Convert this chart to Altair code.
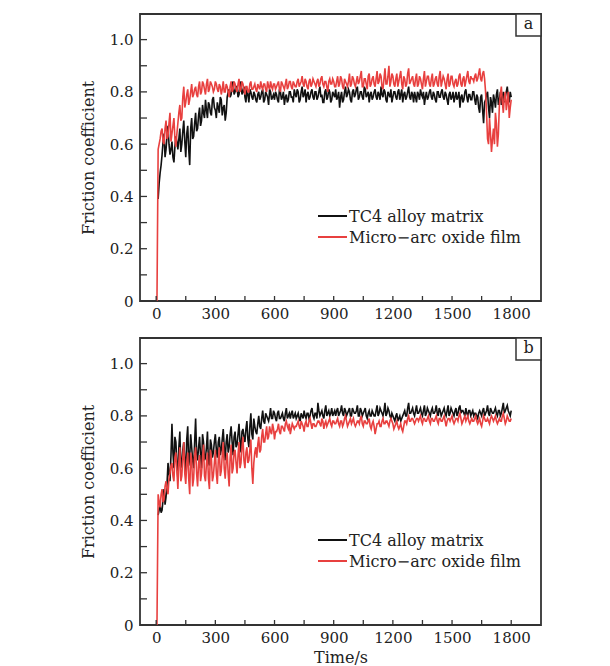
import altair as alt
import pandas as pd

# ---------------- data ----------------
TIME = list(range(10, 1810, 10))          # s, samples at 10, 20, ... 1800
TIME_MID = list(range(15, 1800, 10))      # s, samples at 15, 25, ... 1795
START_T = 4                                # red traces start from 0 here
START_MU = 0.0

# Panel a – TC4 alloy matrix
A_TC4 = [
    0.39, 0.49, 0.56, 0.64, 0.58, 0.67, 0.56, 0.61, 0.53, 0.63,
    0.58, 0.66, 0.60, 0.69, 0.55, 0.67, 0.52, 0.70, 0.63, 0.72,
    0.66, 0.74, 0.69, 0.72, 0.77, 0.70, 0.75, 0.71, 0.78, 0.73,
    0.76, 0.72, 0.77, 0.74, 0.69, 0.78, 0.81, 0.79, 0.84, 0.80,
    0.82, 0.79, 0.84, 0.80, 0.78, 0.81, 0.76, 0.80, 0.77, 0.79,
    0.76, 0.80, 0.78, 0.81, 0.77, 0.79, 0.75, 0.80, 0.78, 0.77,
    0.79, 0.76, 0.80, 0.78, 0.75, 0.79, 0.77, 0.80, 0.78, 0.81,
    0.78, 0.80, 0.77, 0.82, 0.79, 0.76, 0.80, 0.78, 0.81, 0.77,
    0.80, 0.78, 0.82, 0.79, 0.76, 0.81, 0.78, 0.80, 0.77, 0.79,
    0.81, 0.78, 0.74, 0.80, 0.77, 0.82, 0.79, 0.80, 0.76, 0.81,
    0.79, 0.82, 0.78, 0.80, 0.77, 0.81, 0.79, 0.76, 0.80, 0.78,
    0.81, 0.77, 0.79, 0.82, 0.78, 0.80, 0.76, 0.79, 0.81, 0.78,
    0.80, 0.77, 0.81, 0.79, 0.76, 0.80, 0.78, 0.82, 0.77, 0.79,
    0.80, 0.76, 0.79, 0.81, 0.78, 0.75, 0.80, 0.78, 0.81, 0.77,
    0.79, 0.76, 0.80, 0.78, 0.81, 0.77, 0.79, 0.75, 0.80, 0.78,
    0.76, 0.80, 0.78, 0.74, 0.79, 0.77, 0.81, 0.76, 0.79, 0.77,
    0.80, 0.75, 0.78, 0.72, 0.79, 0.68, 0.77, 0.80, 0.70, 0.76,
    0.79, 0.74, 0.81, 0.77, 0.75, 0.80, 0.78, 0.82, 0.76, 0.78,
]
A_TC4_MID = [
    0.45, 0.52, 0.61, 0.55, 0.63, 0.60, 0.58, 0.55, 0.59, 0.61,
    0.62, 0.57, 0.65, 0.61, 0.64, 0.58, 0.66, 0.62, 0.68, 0.65,
    0.71, 0.67, 0.75, 0.70, 0.73, 0.76, 0.72, 0.77, 0.74, 0.70,
    0.74, 0.78, 0.71, 0.75, 0.72, 0.80, 0.78, 0.83, 0.79, 0.82,
    0.78, 0.83, 0.79, 0.82, 0.76, 0.79, 0.81, 0.78, 0.80, 0.77,
    0.79, 0.77, 0.80, 0.76, 0.80, 0.78, 0.81, 0.77, 0.79, 0.80,
    0.77, 0.81, 0.77, 0.80, 0.78, 0.76, 0.80, 0.78, 0.76, 0.79,
    0.81, 0.76, 0.80, 0.78, 0.81, 0.79, 0.77, 0.80, 0.78, 0.80,
    0.77, 0.80, 0.78, 0.76, 0.80, 0.77, 0.81, 0.76, 0.80, 0.78,
    0.77, 0.80, 0.78, 0.76, 0.80, 0.78, 0.81, 0.77, 0.80, 0.78,
    0.81, 0.77, 0.80, 0.78, 0.82, 0.78, 0.80, 0.79, 0.77, 0.80,
    0.78, 0.80, 0.77, 0.79, 0.81, 0.77, 0.80, 0.78, 0.76, 0.80,
    0.78, 0.80, 0.77, 0.81, 0.79, 0.77, 0.80, 0.78, 0.80, 0.76,
    0.78, 0.80, 0.77, 0.79, 0.80, 0.78, 0.77, 0.80, 0.78, 0.80,
    0.77, 0.80, 0.78, 0.80, 0.78, 0.80, 0.77, 0.79, 0.77, 0.80,
    0.78, 0.77, 0.80, 0.78, 0.76, 0.80, 0.78, 0.79, 0.77, 0.80,
    0.77, 0.79, 0.74, 0.78, 0.73, 0.76, 0.79, 0.74, 0.78, 0.72,
    0.77, 0.79, 0.75, 0.80, 0.78, 0.76, 0.80, 0.78, 0.80,
]
# Panel a – micro-arc oxide film
A_MAO = [
    0.58, 0.62, 0.66, 0.60, 0.69, 0.63, 0.72, 0.64, 0.70, 0.59,
    0.68, 0.75, 0.70, 0.82, 0.76, 0.81, 0.77, 0.83, 0.79, 0.82,
    0.78, 0.84, 0.80, 0.83, 0.79, 0.85, 0.81, 0.83, 0.80, 0.84,
    0.81, 0.83, 0.79, 0.84, 0.80, 0.82, 0.78, 0.84, 0.81, 0.83,
    0.80, 0.85, 0.81, 0.83, 0.79, 0.82, 0.80, 0.84, 0.81, 0.83,
    0.80, 0.82, 0.84, 0.81, 0.83, 0.80, 0.82, 0.84, 0.81, 0.83,
    0.82, 0.84, 0.80, 0.83, 0.81, 0.85, 0.82, 0.84, 0.81, 0.83,
    0.82, 0.85, 0.83, 0.86, 0.82, 0.84, 0.81, 0.85, 0.83, 0.84,
    0.82, 0.85, 0.83, 0.86, 0.82, 0.84, 0.80, 0.85, 0.83, 0.84,
    0.82, 0.86, 0.83, 0.85, 0.81, 0.84, 0.82, 0.87, 0.83, 0.85,
    0.82, 0.86, 0.84, 0.88, 0.82, 0.85, 0.81, 0.87, 0.83, 0.86,
    0.82, 0.88, 0.84, 0.86, 0.81, 0.89, 0.83, 0.90, 0.84, 0.86,
    0.82, 0.87, 0.84, 0.88, 0.81, 0.85, 0.83, 0.89, 0.84, 0.86,
    0.82, 0.87, 0.83, 0.85, 0.81, 0.88, 0.84, 0.86, 0.82, 0.87,
    0.83, 0.86, 0.82, 0.88, 0.84, 0.85, 0.81, 0.87, 0.83, 0.86,
    0.82, 0.85, 0.83, 0.87, 0.82, 0.86, 0.84, 0.88, 0.83, 0.85,
    0.84, 0.87, 0.85, 0.89, 0.84, 0.88, 0.80, 0.62, 0.70, 0.57,
    0.66, 0.72, 0.59, 0.75, 0.82, 0.72, 0.80, 0.76, 0.70, 0.77,
]
A_MAO_MID = [
    0.60, 0.65, 0.61, 0.66, 0.62, 0.68, 0.61, 0.67, 0.62, 0.64,
    0.72, 0.69, 0.78, 0.74, 0.79, 0.75, 0.80, 0.78, 0.81, 0.79,
    0.82, 0.79, 0.84, 0.81, 0.83, 0.80, 0.84, 0.82, 0.81, 0.83,
    0.80, 0.82, 0.81, 0.80, 0.83, 0.80, 0.82, 0.80, 0.84, 0.81,
    0.83, 0.80, 0.84, 0.81, 0.82, 0.80, 0.83, 0.81, 0.82, 0.81,
    0.83, 0.81, 0.82, 0.83, 0.81, 0.84, 0.81, 0.82, 0.83, 0.81,
    0.83, 0.81, 0.84, 0.82, 0.83, 0.81, 0.84, 0.82, 0.84, 0.82,
    0.84, 0.82, 0.84, 0.83, 0.85, 0.82, 0.84, 0.82, 0.85, 0.83,
    0.84, 0.82, 0.85, 0.83, 0.84, 0.82, 0.84, 0.83, 0.85, 0.82,
    0.84, 0.82, 0.86, 0.82, 0.85, 0.83, 0.84, 0.82, 0.86, 0.83,
    0.84, 0.83, 0.86, 0.82, 0.85, 0.83, 0.86, 0.82, 0.85, 0.83,
    0.85, 0.83, 0.87, 0.82, 0.85, 0.83, 0.86, 0.82, 0.87, 0.83,
    0.85, 0.82, 0.86, 0.83, 0.86, 0.82, 0.87, 0.83, 0.85, 0.83,
    0.85, 0.82, 0.86, 0.83, 0.85, 0.82, 0.86, 0.83, 0.85, 0.82,
    0.85, 0.83, 0.86, 0.82, 0.86, 0.83, 0.85, 0.82, 0.86, 0.83,
    0.84, 0.82, 0.86, 0.83, 0.85, 0.82, 0.86, 0.84, 0.86, 0.85,
    0.86, 0.84, 0.87, 0.85, 0.87, 0.85, 0.72, 0.60, 0.64, 0.62,
    0.60, 0.68, 0.64, 0.79, 0.76, 0.78, 0.73, 0.80, 0.74,
]
# Panel b – TC4 alloy matrix
B_TC4 = [
    0.42, 0.46, 0.44, 0.52, 0.49, 0.62, 0.55, 0.77, 0.60, 0.70,
    0.56, 0.74, 0.62, 0.70, 0.58, 0.76, 0.64, 0.68, 0.60, 0.79,
    0.63, 0.72, 0.60, 0.70, 0.64, 0.74, 0.61, 0.69, 0.66, 0.73,
    0.64, 0.72, 0.67, 0.75, 0.63, 0.73, 0.68, 0.76, 0.65, 0.74,
    0.69, 0.77, 0.66, 0.75, 0.70, 0.78, 0.68, 0.81, 0.71, 0.76,
    0.73, 0.80, 0.75, 0.82, 0.77, 0.80, 0.78, 0.83, 0.79, 0.81,
    0.78, 0.82, 0.79, 0.81, 0.78, 0.83, 0.80, 0.79, 0.82, 0.80,
    0.79, 0.81, 0.78, 0.80, 0.82, 0.79, 0.81, 0.80, 0.83, 0.79,
    0.81, 0.85, 0.80, 0.82, 0.79, 0.84, 0.81, 0.80, 0.83, 0.81,
    0.80, 0.83, 0.81, 0.84, 0.80, 0.82, 0.81, 0.83, 0.80, 0.82,
    0.81, 0.84, 0.80, 0.82, 0.81, 0.83, 0.79, 0.82, 0.80, 0.81,
    0.80, 0.84, 0.81, 0.82, 0.80, 0.85, 0.81, 0.82, 0.79, 0.80,
    0.78, 0.81, 0.79, 0.78, 0.80, 0.82, 0.80, 0.85, 0.81, 0.83,
    0.80, 0.84, 0.81, 0.83, 0.80, 0.84, 0.81, 0.82, 0.80, 0.83,
    0.81, 0.84, 0.80, 0.82, 0.81, 0.83, 0.80, 0.84, 0.81, 0.82,
    0.80, 0.83, 0.81, 0.84, 0.82, 0.81, 0.83, 0.80, 0.82, 0.81,
    0.80, 0.81, 0.79, 0.82, 0.80, 0.83, 0.81, 0.84, 0.80, 0.82,
    0.81, 0.83, 0.80, 0.82, 0.81, 0.85, 0.82, 0.84, 0.81, 0.82,
]
B_TC4_MID = [
    0.44, 0.43, 0.48, 0.46, 0.54, 0.58, 0.65, 0.66, 0.72, 0.62,
    0.68, 0.60, 0.67, 0.63, 0.71, 0.61, 0.73, 0.63, 0.70, 0.66,
    0.68, 0.65, 0.73, 0.63, 0.68, 0.62, 0.71, 0.64, 0.70, 0.67,
    0.70, 0.65, 0.71, 0.68, 0.70, 0.66, 0.73, 0.70, 0.72, 0.68,
    0.73, 0.70, 0.74, 0.72, 0.75, 0.71, 0.76, 0.73, 0.79, 0.74,
    0.77, 0.76, 0.79, 0.78, 0.81, 0.79, 0.80, 0.79, 0.82, 0.79,
    0.81, 0.79, 0.80, 0.79, 0.81, 0.79, 0.81, 0.81, 0.79, 0.81,
    0.80, 0.79, 0.81, 0.79, 0.80, 0.81, 0.79, 0.82, 0.80, 0.81,
    0.79, 0.82, 0.81, 0.80, 0.82, 0.80, 0.82, 0.81, 0.80, 0.82,
    0.82, 0.80, 0.82, 0.81, 0.83, 0.80, 0.82, 0.80, 0.83, 0.81,
    0.82, 0.80, 0.83, 0.80, 0.82, 0.80, 0.81, 0.80, 0.82, 0.80,
    0.82, 0.80, 0.83, 0.81, 0.82, 0.80, 0.83, 0.80, 0.81, 0.79,
    0.80, 0.78, 0.80, 0.79, 0.81, 0.80, 0.83, 0.81, 0.82, 0.81,
    0.82, 0.81, 0.82, 0.81, 0.82, 0.80, 0.83, 0.81, 0.82, 0.81,
    0.82, 0.81, 0.83, 0.80, 0.82, 0.81, 0.82, 0.80, 0.83, 0.81,
    0.82, 0.80, 0.83, 0.81, 0.82, 0.80, 0.81, 0.82, 0.80, 0.82,
    0.81, 0.80, 0.81, 0.81, 0.82, 0.80, 0.82, 0.81, 0.83, 0.81,
    0.82, 0.81, 0.82, 0.80, 0.83, 0.81, 0.83, 0.82, 0.80,
]
# Panel b – micro-arc oxide film
B_MAO = [
    0.50, 0.45, 0.52, 0.48, 0.55, 0.50, 0.58, 0.62, 0.55, 0.66,
    0.52, 0.68, 0.57, 0.70, 0.54, 0.66, 0.50, 0.63, 0.56, 0.68,
    0.53, 0.65, 0.58, 0.69, 0.55, 0.66, 0.52, 0.64, 0.57, 0.67,
    0.54, 0.68, 0.59, 0.70, 0.56, 0.66, 0.53, 0.69, 0.60, 0.67,
    0.58, 0.70, 0.62, 0.72, 0.60, 0.68, 0.63, 0.71, 0.54, 0.66,
    0.64, 0.72, 0.67, 0.75, 0.70, 0.76, 0.72, 0.74, 0.77, 0.71,
    0.74, 0.77, 0.73, 0.76, 0.74, 0.78, 0.75, 0.73, 0.77, 0.75,
    0.76, 0.78, 0.75, 0.77, 0.74, 0.78, 0.76, 0.79, 0.75, 0.77,
    0.76, 0.78, 0.77, 0.79, 0.75, 0.78, 0.77, 0.79, 0.76, 0.78,
    0.77, 0.79, 0.76, 0.78, 0.77, 0.80, 0.76, 0.78, 0.77, 0.79,
    0.76, 0.78, 0.77, 0.80, 0.76, 0.78, 0.77, 0.79, 0.75, 0.78,
    0.73, 0.77, 0.78, 0.76, 0.79, 0.77, 0.78, 0.76, 0.79, 0.77,
    0.76, 0.78, 0.75, 0.77, 0.74, 0.78, 0.77, 0.80, 0.78, 0.79,
    0.77, 0.79, 0.78, 0.80, 0.77, 0.79, 0.78, 0.80, 0.77, 0.79,
    0.78, 0.80, 0.77, 0.79, 0.78, 0.80, 0.76, 0.79, 0.78, 0.80,
    0.77, 0.79, 0.78, 0.81, 0.77, 0.79, 0.78, 0.80, 0.77, 0.79,
    0.78, 0.80, 0.77, 0.79, 0.76, 0.80, 0.78, 0.79, 0.77, 0.80,
    0.78, 0.80, 0.77, 0.79, 0.78, 0.81, 0.77, 0.80, 0.78, 0.79,
]
B_MAO_MID = [
    0.47, 0.50, 0.47, 0.53, 0.52, 0.56, 0.61, 0.57, 0.64, 0.59,
    0.62, 0.55, 0.64, 0.58, 0.62, 0.56, 0.66, 0.53, 0.65, 0.58,
    0.62, 0.55, 0.64, 0.57, 0.62, 0.56, 0.67, 0.55, 0.62, 0.58,
    0.63, 0.57, 0.65, 0.60, 0.63, 0.58, 0.64, 0.58, 0.66, 0.62,
    0.65, 0.60, 0.68, 0.63, 0.66, 0.62, 0.67, 0.60, 0.62, 0.68,
    0.69, 0.66, 0.72, 0.70, 0.73, 0.71, 0.76, 0.73, 0.75, 0.74,
    0.75, 0.74, 0.76, 0.75, 0.77, 0.76, 0.77, 0.75, 0.76, 0.76,
    0.77, 0.76, 0.78, 0.76, 0.77, 0.76, 0.78, 0.77, 0.77, 0.76,
    0.77, 0.78, 0.76, 0.78, 0.77, 0.76, 0.78, 0.77, 0.78, 0.77,
    0.78, 0.77, 0.78, 0.76, 0.79, 0.78, 0.77, 0.79, 0.78, 0.77,
    0.77, 0.78, 0.79, 0.77, 0.78, 0.77, 0.78, 0.76, 0.77, 0.76,
    0.75, 0.77, 0.76, 0.78, 0.77, 0.78, 0.77, 0.78, 0.78, 0.75,
    0.77, 0.76, 0.76, 0.75, 0.76, 0.78, 0.79, 0.78, 0.79, 0.78,
    0.78, 0.79, 0.79, 0.78, 0.79, 0.78, 0.79, 0.78, 0.79, 0.78,
    0.79, 0.78, 0.79, 0.78, 0.79, 0.78, 0.78, 0.79, 0.79, 0.78,
    0.78, 0.79, 0.80, 0.79, 0.78, 0.80, 0.79, 0.78, 0.78, 0.78,
    0.79, 0.78, 0.78, 0.77, 0.78, 0.79, 0.78, 0.78, 0.79, 0.79,
    0.79, 0.78, 0.78, 0.78, 0.80, 0.79, 0.78, 0.79, 0.78,
]

SERIES = ["TC4 alloy matrix", "Micro\u2212arc oxide film"]
COLORS = ["#111111", "#e8403f"]
PANEL_TAGS = ["a", "b"]
X_LABELS = [0, 300, 600, 900, 1200, 1500, 1800]
X_TICKS = [0, 150, 300, 450, 600, 750, 900, 1050, 1200, 1350, 1500, 1650, 1800]
Y_LABELS = [0, 0.2, 0.4, 0.6, 0.8, 1.0]
Y_TICKS = [0, 0.1, 0.2, 0.3, 0.4, 0.5, 0.6, 0.7, 0.8, 0.9, 1.0]

# ---------------- style ----------------
FONT = "DejaVu Serif"
INK = "#222222"
FRAME = "#333333"
W, H = 401, 287
XS = alt.Scale(domain=[-82, 1951], nice=False, zero=False)
YS = alt.Scale(domain=[0, 1.098], nice=False, zero=False)


def trace(main, mid, start=None):
    t = TIME + TIME_MID
    mu = main + mid
    if start is not None:
        t = [start[0]] + t
        mu = [start[1]] + mu
    return pd.DataFrame({"t": t, "mu": mu}).sort_values("t")


def panel(tc4, tc4_mid, mao, mao_mid, tag, show_xtitle):
    d_tc4 = trace(tc4, tc4_mid)
    d_mao = trace(mao, mao_mid, (START_T, START_MU))

    xaxis_kw = dict(
        values=X_LABELS, format="d", ticks=False, domain=False, grid=False,
        labelFont=FONT, labelFontSize=15, labelColor=INK, labelPadding=5,
        titleFont=FONT, titleFontSize=16, titleFontWeight="normal",
        titleColor=INK, titlePadding=4,
    )
    xaxis = alt.Axis(title="Time/s", **xaxis_kw) if show_xtitle else alt.Axis(title=None, **xaxis_kw)
    yaxis = alt.Axis(
        values=Y_LABELS, ticks=False, domain=False, grid=False,
        labelExpr="datum.value == 0 ? '0' : format(datum.value, '.1f')",
        labelFont=FONT, labelFontSize=15, labelColor=INK, labelPadding=7,
        title="Friction coefficient", titleFont=FONT, titleFontSize=16,
        titleFontWeight="normal", titleColor=INK, titleAngle=270,
        titleX=-47, titleY=H / 2, titleAlign="center", titleBaseline="alphabetic",
    )
    X = lambda: alt.X("t:Q", scale=XS, axis=xaxis)
    Y = lambda: alt.Y("mu:Q", scale=YS, axis=yaxis)

    line_tc4 = alt.Chart(d_tc4).mark_line(color=COLORS[0], strokeWidth=1.6).encode(
        x=X(), y=Y(), order="t:Q")
    line_mao = alt.Chart(d_mao).mark_line(color=COLORS[1], strokeWidth=1.6).encode(
        x=X(), y=Y(), order="t:Q")
    xt = alt.Chart(pd.DataFrame({"t": X_TICKS})).mark_rule(color=FRAME, strokeWidth=1.3).encode(
        x=X(), y=alt.value(H), y2=alt.value(H - 5)
    )
    yt = alt.Chart(pd.DataFrame({"mu": Y_TICKS})).mark_rule(color=FRAME, strokeWidth=1.3).encode(
        y=Y(), x=alt.value(0), x2=alt.value(7)
    )

    layers = [line_tc4, line_mao, xt, yt]
    for i, (name, col) in enumerate(zip(SERIES, COLORS)):
        yy = 202 + 21 * i
        ld = pd.DataFrame({"name": [name]})
        layers.append(alt.Chart(ld).mark_rule(color=col, strokeWidth=2).encode(
            x=alt.value(178), x2=alt.value(207), y=alt.value(yy)))
        layers.append(alt.Chart(ld).mark_text(
            align="left", baseline="middle", font=FONT, fontSize=16, color=INK
        ).encode(x=alt.value(209), y=alt.value(yy + 1), text="name:N"))

    td = pd.DataFrame({"tag": [tag]})
    layers.append(alt.Chart(td).mark_rect(fill="white", stroke=FRAME, strokeWidth=1.5).encode(
        x=alt.value(376), x2=alt.value(401), y=alt.value(0), y2=alt.value(22)))
    layers.append(alt.Chart(td).mark_text(
        align="center", baseline="middle", font=FONT, fontSize=16, color=INK
    ).encode(x=alt.value(388.5), y=alt.value(10), text="tag:N"))

    return alt.layer(*layers).properties(width=W, height=H)


chart = alt.vconcat(
    panel(A_TC4, A_TC4_MID, A_MAO, A_MAO_MID, PANEL_TAGS[0], False),
    panel(B_TC4, B_TC4_MID, B_MAO, B_MAO_MID, PANEL_TAGS[1], True),
    spacing=14,
).configure_view(
    stroke=FRAME, strokeWidth=1.8
).properties(
    background="white",
    padding={"left": 71, "top": 4, "right": 5, "bottom": 5},
)

chart.save("out.html", embed_options={"renderer": "svg", "actions": False})
